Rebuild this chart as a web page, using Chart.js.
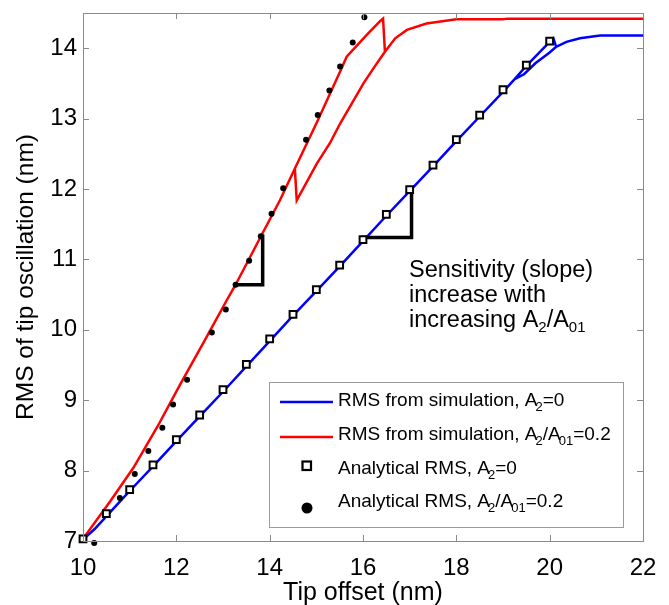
<!DOCTYPE html>
<html>
<head>
<meta charset="utf-8">
<script src="https://cdn.jsdelivr.net/npm/chart.js@4.4.1/dist/chart.umd.min.js"></script>
<style>
  html, body { margin: 0; padding: 0; background: #fff; }
  #wrap { width: 669px; height: 605px; }
</style>
</head>
<body>
<div id="wrap"><canvas id="c" width="669" height="605"></canvas></div>
<script>
// ---------------- data ----------------
const xTicks = [10, 12, 14, 16, 18, 20, 22];
const yTicks = [7, 8, 9, 10, 11, 12, 13, 14];

// RMS from simulation, A2=0 (blue) — main branch, then return branch (null = break)
const blueSimX = [10.0, 10.25, 10.5, 10.75, 11.0, 11.5, 12.0, 12.5, 13.0, 13.5, 14.0, 14.5, 15.0, 15.5, 16.0, 16.5, 17.0, 17.5, 18.0, 18.5, 19.0, 19.25, 19.5, 20.0, 20.08, 20.14, 20.36, 20.65, 21.08, 22.0,
                  null,
                  19.25, 19.45, 19.7, 20.0, 20.14];
const blueSimY = [7.02, 7.17, 7.35, 7.53, 7.71, 8.06, 8.42, 8.77, 9.12, 9.48, 9.84, 10.20, 10.55, 10.90, 11.26, 11.62, 11.97, 12.32, 12.68, 13.03, 13.38, 13.56, 13.75, 14.09, 14.14, 14.02, 14.09, 14.14, 14.18, 14.18,
                  null,
                  13.56, 13.63, 13.79, 13.94, 14.02];

// RMS from simulation, A2/A01=0.2 (red)
const redSimX = [10.0, 10.58, 11.08, 11.6, 12.08, 12.6, 13.08, 13.27, 13.83, 14.22, 14.54, 15.0, 15.51, 15.65, 16.08, 16.36, 16.43, 16.47, 16.69, 16.94, 17.36, 18.0, 19.0, 19.1, 22.0,
                 null,
                 14.54, 14.58, 15.01, 15.29, 15.51, 16.01, 16.22, 16.47];
const redSimY = [7.03, 7.56, 8.04, 8.63, 9.22, 9.84, 10.42, 10.64, 11.35, 11.84, 12.29, 12.93, 13.67, 13.88, 14.19, 14.38, 14.42, 13.95, 14.14, 14.26, 14.35, 14.41, 14.41, 14.42, 14.42,
                 null,
                 12.29, 11.84, 12.36, 12.65, 12.93, 13.50, 13.71, 13.95];

// Analytical RMS, A2=0 (open squares)
const anaSqX = [10.0, 10.5, 11.0, 11.5, 12.0, 12.5, 13.0, 13.5, 14.0, 14.5, 15.0, 15.5, 16.0, 16.5, 17.0, 17.5, 18.0, 18.5, 19.0, 19.5, 20.0];
const anaSqY = [7.03, 7.39, 7.73, 8.08, 8.44, 8.79, 9.15, 9.51, 9.87, 10.22, 10.57, 10.92, 11.28, 11.64, 11.99, 12.34, 12.70, 13.05, 13.41, 13.76, 14.10];

// Analytical RMS, A2/A01=0.2 (filled dots)
const anaDotX = [10.24, 10.79, 11.11, 11.40, 11.70, 11.93, 12.23, 12.76, 13.06, 13.27, 13.56, 13.81, 14.04, 14.29, 14.78, 15.03, 15.28, 15.51, 15.78, 16.03];
const anaDotY = [6.97, 7.61, 7.95, 8.28, 8.61, 8.94, 9.29, 9.96, 10.29, 10.64, 10.98, 11.33, 11.65, 12.01, 12.70, 13.05, 13.40, 13.74, 14.08, 14.44];

// slope triangles
const redSlopeX = [13.27, 13.85, 13.85];
const redSlopeY = [10.64, 10.64, 11.33];
const blueSlopeX = [16.01, 17.04, 17.04];
const blueSlopeY = [11.31, 11.31, 12.00];

const legendLabels = [
  [{t: 'RMS from simulation, A'}, {t: '2', sub: true}, {t: '=0'}],
  [{t: 'RMS from simulation, A'}, {t: '2', sub: true}, {t: '/A'}, {t: '01', sub: true}, {t: '=0.2'}],
  [{t: 'Analytical RMS, A'}, {t: '2', sub: true}, {t: '=0'}],
  [{t: 'Analytical RMS, A'}, {t: '2', sub: true}, {t: '/A'}, {t: '01', sub: true}, {t: '=0.2'}]
];
const noteLines = [
  [{t: 'Sensitivity (slope)'}],
  [{t: 'increase with'}],
  [{t: 'increasing A'}, {t: '2', sub: true}, {t: '/A'}, {t: '01', sub: true}]
];

// ---------------- helpers ----------------
const pts = (xs, ys) => xs.map((x, i) => (x === null ? {x: null, y: null} : {x: x, y: ys[i]}));
const FONT = '"Liberation Sans", Arial, Helvetica, sans-serif';
const AXIS_GRAY = '#8a8a8a';

function drawRich(ctx, segs, x, y, size, subSize, subShift, kern) {
  let cx = x;
  segs.forEach(s => {
    if (s.sub) {
      cx -= kern;
      ctx.font = subSize + 'px ' + FONT;
      ctx.fillText(s.t, cx, y + subShift);
      cx += ctx.measureText(s.t).width;
    } else {
      ctx.font = size + 'px ' + FONT;
      ctx.fillText(s.t, cx, y);
      cx += ctx.measureText(s.t).width;
    }
  });
}

const framePlugin = {
  id: 'frame',
  afterDatasetsDraw(chart) {
    const {ctx, chartArea: a, scales} = chart;
    ctx.save();
    ctx.strokeStyle = AXIS_GRAY;
    ctx.lineWidth = 1;
    ctx.strokeRect(Math.round(a.left) + 0.5, Math.round(a.top) + 0.5, Math.round(a.right - a.left), Math.round(a.bottom - a.top));
    const tl = 6;
    ctx.beginPath();
    scales.x.ticks.forEach(t => {
      const px = Math.round(scales.x.getPixelForValue(t.value)) + 0.5;
      ctx.moveTo(px, a.bottom); ctx.lineTo(px, a.bottom - tl);
      ctx.moveTo(px, a.top); ctx.lineTo(px, a.top + tl);
    });
    scales.y.ticks.forEach(t => {
      const py = Math.round(scales.y.getPixelForValue(t.value)) + 0.5;
      ctx.moveTo(a.left, py); ctx.lineTo(a.left + tl, py);
      ctx.moveTo(a.right, py); ctx.lineTo(a.right - tl, py);
    });
    ctx.stroke();
    ctx.restore();
  },
  afterDraw(chart) {
    const {ctx} = chart;
    ctx.save();
    ctx.fillStyle = '#000';
    ctx.textBaseline = 'alphabetic';
    ctx.textAlign = 'left';
    const noteBase = [277, 302, 327];
    noteLines.forEach((segs, i) => drawRich(ctx, segs, 409, noteBase[i], 23.5, 15, 5, 0));

    const L = 269.5, T = 382.5, R = 623.5, B = 527.5;
    ctx.fillStyle = '#fff';
    ctx.fillRect(L, T, R - L, B - T);
    ctx.strokeStyle = '#9a9a9a';
    ctx.lineWidth = 1;
    ctx.strokeRect(L, T, R - L, B - T);

    const base = [406, 439.5, 473.5, 507];
    const ds = chart.data.datasets;
    [[0, 402], [1, 437]].forEach(([k, yy]) => {
      ctx.strokeStyle = ds[k].borderColor;
      ctx.lineWidth = 2.5;
      ctx.beginPath();
      ctx.moveTo(280, yy); ctx.lineTo(333, yy);
      ctx.stroke();
    });
    ctx.strokeStyle = '#000';
    ctx.lineWidth = 2.2;
    ctx.strokeRect(302.5, 461.5, 8.5, 8.5);
    ctx.fillStyle = '#000';
    ctx.beginPath();
    ctx.arc(307, 508, 5.5, 0, Math.PI * 2);
    ctx.fill();

    ctx.fillStyle = '#000';
    legendLabels.forEach((segs, i) => drawRich(ctx, segs, 338, base[i], 19, 13, 5, 2));
    ctx.restore();
  }
};

Chart.defaults.font.family = FONT;
Chart.defaults.color = '#000';

new Chart(document.getElementById('c'), {
  type: 'scatter',
  data: {
    datasets: [
      { label: 'RMS from simulation, A2=0', data: pts(blueSimX, blueSimY), showLine: true, spanGaps: false,
        borderColor: '#0000ff', borderWidth: 2.5, pointRadius: 0, pointHoverRadius: 0, order: 3, tension: 0 },
      { label: 'RMS from simulation, A2/A01=0.2', data: pts(redSimX, redSimY), showLine: true, spanGaps: false,
        borderColor: '#ff0000', borderWidth: 2.5, pointRadius: 0, pointHoverRadius: 0, order: 3, tension: 0 },
      { label: 'Analytical RMS, A2=0', data: pts(anaSqX, anaSqY), showLine: false,
        pointStyle: 'rect', pointRadius: 4.8, borderColor: '#000', backgroundColor: '#fff', borderWidth: 2, order: 0, clip: false },
      { label: 'Analytical RMS, A2/A01=0.2', data: pts(anaDotX, anaDotY), showLine: false,
        pointStyle: 'circle', pointRadius: 3, borderColor: '#000', backgroundColor: '#000', borderWidth: 0, order: 0, clip: false },
      { label: 'slope red', data: pts(redSlopeX, redSlopeY), showLine: true,
        borderColor: '#000', borderWidth: 3.5, pointRadius: 0, order: 1, borderCapStyle: 'square', borderJoinStyle: 'miter' },
      { label: 'slope blue', data: pts(blueSlopeX, blueSlopeY), showLine: true,
        borderColor: '#000', borderWidth: 3.5, pointRadius: 0, order: 1, borderCapStyle: 'square', borderJoinStyle: 'miter' }
    ]
  },
  options: {
    responsive: false,
    animation: false,
    devicePixelRatio: 1,
    layout: { padding: { top: 13, right: 26, left: 0, bottom: 0 } },
    plugins: { legend: { display: false }, tooltip: { enabled: false } },
    scales: {
      x: {
        type: 'linear', min: 10, max: 22,
        afterFit: s => { s.height = 64; s.paddingLeft = 0; s.paddingRight = 0; },
        afterBuildTicks: s => { s.ticks = xTicks.map(v => ({value: v})); },
        ticks: { font: { size: 24 }, padding: 13, maxRotation: 0, autoSkip: false, includeBounds: false },
        grid: { display: true, drawOnChartArea: false, drawTicks: false, color: AXIS_GRAY },
        border: { display: false },
        title: { display: true, text: 'Tip offset (nm)', font: { size: 25 }, padding: { top: 0, bottom: -3 } }
      },
      y: {
        type: 'linear', min: 7, max: 14.5,
        afterFit: s => { s.width = 83; s.paddingTop = 0; s.paddingBottom = 0; },
        afterBuildTicks: s => { s.ticks = yTicks.map(v => ({value: v})); },
        ticks: { font: { size: 24 }, padding: 6, autoSkip: false, includeBounds: false },
        grid: { display: true, drawOnChartArea: false, drawTicks: false, color: AXIS_GRAY },
        border: { display: false },
        title: { display: true, text: 'RMS of tip oscillation (nm)', font: { size: 24.5 }, padding: { top: 12, bottom: 0 } }
      }
    }
  },
  plugins: [framePlugin]
});
</script>
</body>
</html>
